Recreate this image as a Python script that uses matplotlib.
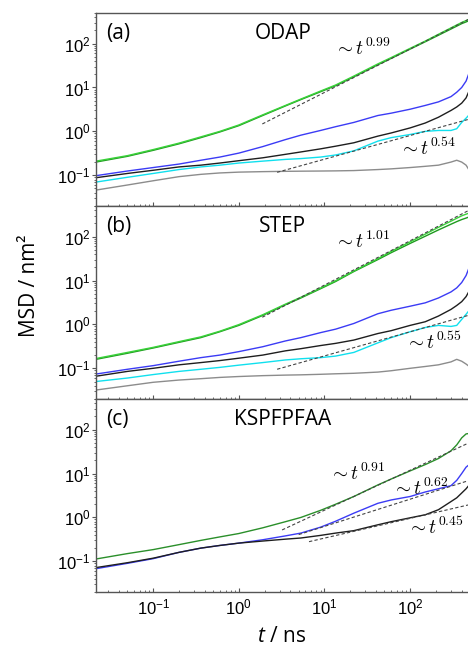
"""Stacked log-log MSD curves for ODAP, STEP and KSPFPFAA."""

import matplotlib

matplotlib.use("Agg")
import matplotlib.pyplot as plt
import numpy as np
from matplotlib.ticker import LogLocator, NullFormatter

plt.rcParams["font.family"] = ["Liberation Sans", "DejaVu Sans"]
plt.rcParams["axes.unicode_minus"] = False
plt.rcParams["mathtext.fontset"] = "custom"
plt.rcParams["mathtext.rm"] = "Open Sans"
plt.rcParams["mathtext.it"] = "Open Sans:italic"

# lag time (ns), shared by every curve
T = [0.0215, 0.05, 0.1, 0.2, 0.36, 0.6, 1.0, 1.9, 3.5, 5.3, 9, 13.5, 22, 42,
     60, 100, 150, 214, 300, 350, 400, 450, 490]

# (a) ODAP
a_green = [0.20, 0.27, 0.37, 0.52, 0.72, 0.97, 1.35, 2.3, 3.8, 5.3, 8.0, 11,
           17.5, 33, 46, 75, 110, 155, 215, 250, 285, 312, 335]
a_lgreen = [0.21, 0.28, 0.385, 0.54, 0.75, 1.0, 1.4, 2.38, 3.9, 5.45, 8.3, 11.4,
            18.2, 34.5, 48, 78, 114, 163, 228, 266, 303, 335, 362]
a_blue = [0.098, 0.125, 0.15, 0.18, 0.22, 0.26, 0.32, 0.45, 0.65, 0.82, 1.05,
          1.28, 1.6, 2.3, 2.6, 3.2, 3.9, 4.7, 6.2, 7.8, 10, 14, 22]
a_black = [0.088, 0.11, 0.13, 0.155, 0.17, 0.19, 0.215, 0.25, 0.3, 0.34, 0.4,
           0.46, 0.55, 0.78, 0.92, 1.2, 1.55, 2.1, 3.0, 3.6, 4.4, 5.8, 8.5]
a_cyan = [0.07, 0.09, 0.11, 0.135, 0.155, 0.17, 0.19, 0.21, 0.23, 0.24, 0.26,
          0.29, 0.36, 0.6, 0.72, 0.85, 1.0, 1.05, 1.05, 1.15, 1.6, 2.0, 2.4]
a_gray = [0.046, 0.06, 0.075, 0.093, 0.105, 0.113, 0.118, 0.121, 0.123, 0.124,
          0.125, 0.126, 0.128, 0.135, 0.14, 0.15, 0.16, 0.17, 0.2, 0.22, 0.2,
          0.17, 0.13]

# (b) STEP
b_green = [0.16, 0.22, 0.29, 0.39, 0.5, 0.68, 0.95, 1.6, 2.8, 4.0, 6.5, 9.5,
           16, 30, 43, 70, 102, 142, 192, 220, 245, 265, 282]
b_lgreen = [0.167, 0.23, 0.3, 0.405, 0.52, 0.7, 0.99, 1.66, 2.9, 4.15, 6.75,
            9.9, 16.5, 31.5, 46, 76, 114, 163, 225, 262, 298, 325, 345]
b_blue = [0.074, 0.095, 0.115, 0.145, 0.175, 0.2, 0.24, 0.31, 0.42, 0.5, 0.65,
          0.78, 1.05, 1.75, 2.1, 2.6, 3.1, 4.0, 5.5, 6.8, 9, 13, 20]
b_black = [0.066, 0.085, 0.1, 0.12, 0.135, 0.15, 0.17, 0.2, 0.25, 0.28, 0.33,
           0.37, 0.44, 0.62, 0.72, 0.95, 1.15, 1.55, 2.2, 2.7, 3.3, 4.3, 5.8]
b_cyan = [0.05, 0.06, 0.072, 0.085, 0.095, 0.105, 0.118, 0.135, 0.155, 0.165,
          0.175, 0.19, 0.23, 0.38, 0.5, 0.68, 0.85, 0.95, 0.9, 0.95, 1.3, 1.7,
          2.1]
b_gray = [0.032, 0.04, 0.048, 0.054, 0.058, 0.062, 0.065, 0.068, 0.07, 0.071,
          0.073, 0.075, 0.077, 0.082, 0.088, 0.1, 0.11, 0.12, 0.14, 0.16, 0.145,
          0.125, 0.11]

# (c) KSPFPFAA
c_green = [0.113, 0.15, 0.185, 0.24, 0.3, 0.36, 0.43, 0.58, 0.8, 1.0, 1.45,
           2.0, 3.0, 5.5, 7.5, 11.5, 16, 22, 33, 45, 65, 80, 82]
c_blue = [0.068, 0.09, 0.115, 0.16, 0.2, 0.23, 0.26, 0.31, 0.38, 0.44, 0.6,
          0.82, 1.25, 2.1, 2.5, 3.0, 3.8, 4.5, 5.3, 7, 10, 14, 16]
c_black = [0.072, 0.093, 0.118, 0.16, 0.2, 0.23, 0.26, 0.29, 0.32, 0.34, 0.39,
           0.44, 0.5, 0.68, 0.8, 0.98, 1.15, 1.5, 2.3, 2.8, 3.6, 4.5, 5.5]

# power-law guides: exponent, prefactor, start time; label text and position
a_fits = [(0.99, 0.79, 1.88), (0.54, 0.067, 2.8)]
b_fits = [(1.01, 0.77, 1.88), (0.55, 0.054, 2.8)]
c_fits = [(0.91, 0.18, 3.2), (0.62, 0.15, 5.0), (0.45, 0.12, 6.6)]
a_notes = [("0.99", 13.0, 76), ("0.54", 74, 0.40)]
b_notes = [("1.01", 13.0, 76), ("0.55", 87, 0.38)]
c_notes = [("0.91", 11.3, 10.3), ("0.62", 61, 4.7), ("0.45", 91, 0.58)]

T_END = 490
GREEN = "#1f9a1f"
LGREEN = "#3ad23a"
BLUE = "#3b3bf5"
BLACK = "#1e1e1e"
CYAN = "#10e0ee"
GRAY = "#8c8c8c"
SPINE = "#555555"

fig = plt.figure(figsize=(4.68, 6.53), dpi=100)
left, width, h = 96 / 468, 374 / 468, 0.2956
bottoms = [0.0934 + 2 * h, 0.0934 + h, 0.0934]

panels = [
    ("(a)", "ODAP", [(a_gray, GRAY), (a_cyan, CYAN), (a_black, BLACK),
                     (a_blue, BLUE), (a_green, GREEN), (a_lgreen, LGREEN)],
     a_fits, a_notes),
    ("(b)", "STEP", [(b_gray, GRAY), (b_cyan, CYAN), (b_black, BLACK),
                     (b_blue, BLUE), (b_green, GREEN), (b_lgreen, LGREEN)],
     b_fits, b_notes),
    ("(c)", "KSPFPFAA", [(c_green, "#2a8f2a"), (c_blue, BLUE),
                         (c_black, BLACK)],
     c_fits, c_notes),
]

for i, (tag, name, curves, fits, notes) in enumerate(panels):
    ax = fig.add_axes([left, bottoms[i], width, h])
    for y, col in curves:
        ax.plot(T, y, color=col, lw=1.0)
    for expo, pref, t0 in fits:
        tt = np.array([t0, T_END])
        ax.plot(tt, pref * tt ** expo, color="#444444", lw=0.8,
                dashes=(3, 2), zorder=5)
    for expo, tx, ty in notes:
        ax.text(tx, ty, r"$\sim t^{%s}$" % expo, fontsize=14,
                math_fontfamily="cm", ha="left", va="center")

    ax.set_xscale("log")
    ax.set_yscale("log")
    ax.set_xlim(0.0215, 500)
    ax.set_ylim(0.02, 500)
    ax.yaxis.set_major_locator(LogLocator(base=10, numticks=10))
    ax.yaxis.set_minor_locator(LogLocator(base=10, subs=np.arange(2, 10), numticks=10))
    ax.xaxis.set_minor_locator(LogLocator(base=10, subs=np.arange(2, 10), numticks=10))
    ax.yaxis.set_minor_formatter(NullFormatter())
    ax.xaxis.set_minor_formatter(NullFormatter())
    ax.tick_params(axis="y", which="major", direction="out", length=3,
                   width=0.8, labelsize=12, pad=1, color=SPINE)
    ax.tick_params(axis="y", which="minor", direction="out", length=1.8,
                   width=0.6, color=SPINE)
    ax.tick_params(axis="x", which="major", direction="in", length=3,
                   width=0.8, labelsize=12, pad=4, color=SPINE)
    ax.tick_params(axis="x", which="minor", direction="in", length=1.8,
                   width=0.6, color=SPINE)
    if i < 2:
        ax.tick_params(axis="x", which="both", labelbottom=False)
    for side in ["left", "top", "bottom"]:
        ax.spines[side].set_color(SPINE)
        ax.spines[side].set_linewidth(1.0)
    ax.spines["right"].set_visible(False)

    ax.text(0.027, 0.895, tag, transform=ax.transAxes, fontsize=15,
            family="Open Sans", va="center", ha="left")
    ax.text(0.5, 0.895, name, transform=ax.transAxes, fontsize=15,
            family="Open Sans", va="center", ha="center")

fig.text(30 / 468, 1 - 286 / 653, "MSD / nm²", rotation=90, fontsize=15,
         family="Open Sans", ha="center", va="center")
fig.text(282 / 468, 1 - 637 / 653, r"$t$ / ns", fontsize=15,
         family="Open Sans", ha="center", va="center")

fig.savefig("out.png", dpi=100)
